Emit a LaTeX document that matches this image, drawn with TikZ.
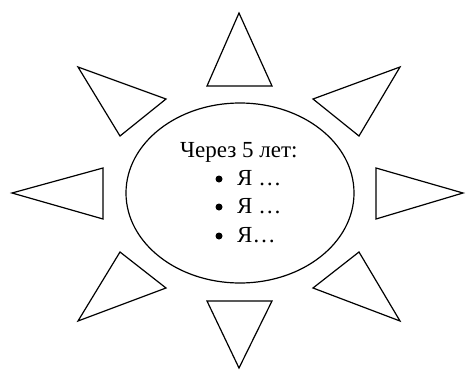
\documentclass[tikz,border=0pt]{standalone}
\usepackage{fontspec}
\setmainfont{Liberation Serif}
\begin{document}
\begin{tikzpicture}[x=1pt,y=-1pt,
  ray/.style={draw=black,line width=1.2pt,line join=miter},
  dot/.style={circle,fill=black,inner sep=0pt,minimum size=7pt},
  txt/.style={anchor=base west,inner sep=0pt,font=\fontsize{23}{28}\selectfont}]
\useasboundingbox (0,0) rectangle (466,372);
% central ellipse
\draw[line width=1.2pt] (240,193) ellipse [x radius=114, y radius=90];
% rays
\draw[ray] (239,13) -- (272,86) -- (207,86) -- cycle;
\draw[ray] (239,368) -- (272,301) -- (207,301) -- cycle;
\draw[ray] (12,193) -- (103,168) -- (103,219) -- cycle;
\draw[ray] (463,193) -- (376,168) -- (376,219) -- cycle;
\draw[ray] (78,67) -- (166,99) -- (120,136) -- cycle;
\draw[ray] (400,67) -- (313,99) -- (359,136) -- cycle;
\draw[ray] (78,321) -- (166,288) -- (120,252) -- cycle;
\draw[ray] (400,321) -- (313,288) -- (359,252) -- cycle;
% text
\node[txt] (head) at (180,157) {Через 5 лет:};
\node[dot] (b1) at (219,179) {};
\node[dot] (b2) at (219,207) {};
\node[dot] (b3) at (219,236) {};
\node[txt] (l1) at (237,185) {Я …};
\node[txt] (l2) at (237,213) {Я …};
\node[txt] (l3) at (237,242) {Я…};
\end{tikzpicture}
\end{document}
